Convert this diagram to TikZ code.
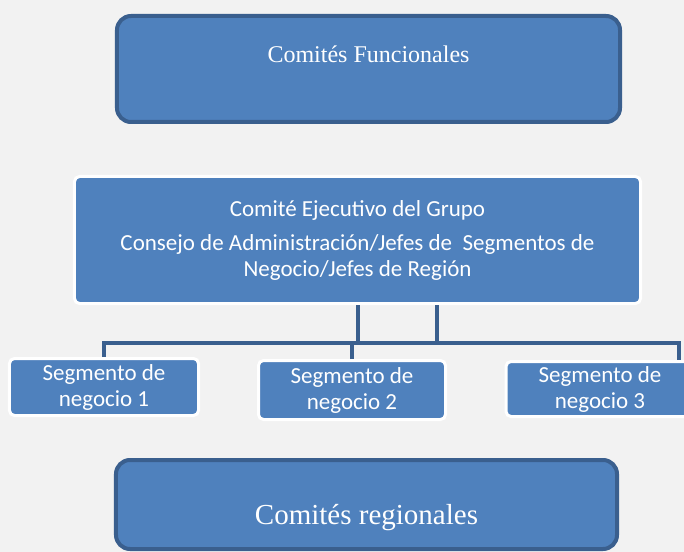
\documentclass[tikz,border=0pt]{standalone}
\usepackage{fontspec}
\setmainfont{Liberation Serif}
\newfontfamily\calibri{Carlito}
\usetikzlibrary{positioning}
\definecolor{boxblue}{HTML}{4F81BD}
\definecolor{edgeblue}{HTML}{3A5F8E}
\definecolor{paper}{HTML}{F2F2F2}

\begin{document}
\begin{tikzpicture}[
  x=1bp, y=-1bp,
  comite/.style={
    draw=edgeblue, fill=boxblue, line width=4bp,
    rounded corners=14bp, text=white, inner sep=0pt
  },
  jefes/.style={
    draw=white, fill=boxblue, line width=3bp,
    rounded corners=5bp, text=white, inner sep=0pt,
    align=center, font=\calibri\fontsize{23bp}{26bp}\selectfont
  },
  conn/.style={draw=edgeblue, line width=4bp, line join=miter}
]
  \fill[paper] (0,0) rectangle (684,552);
  \useasboundingbox (0,0) rectangle (684,552);
  \node[comite, minimum width=503bp, minimum height=106bp,
        text height=16bp, text depth=28bp,
        font=\fontsize{24bp}{28bp}\selectfont]
    (funcionales) at (368.5,69) {Comités Funcionales};
  \node[jefes, minimum width=566bp, minimum height=127bp]
    (ejecutivo) at (357.5,240)
    {Comité Ejecutivo del Grupo\\[8bp]
     Consejo de Administración/Jefes de\ \ Segmentos de\\
     Negocio/Jefes de Región};
  \node[jefes, minimum width=189bp, minimum height=57bp]
    (seg1) at (104,387) {Segmento de\\negocio 1};
  \node[jefes, minimum width=187bp, minimum height=59bp]
    (seg2) at (352,390) {Segmento de\\negocio 2};
  \node[jefes, minimum width=188bp, minimum height=55bp]
    (seg3) at (600,389) {Segmento de\\negocio 3};
  \node[comite, minimum width=501bp, minimum height=89bp,
        text height=46bp, text depth=6bp,
        font=\fontsize{29bp}{34bp}\selectfont]
    (regionales) at (366.5,504.5) {Comités regionales};
  % bus between the groups
  \coordinate (busL) at (seg1.north |- 0,343);
  \coordinate (busR) at (679,343);
  \draw[conn] (ejecutivo.south) -- (ejecutivo.south |- busL);
  \draw[conn] ([xshift=79bp]ejecutivo.south) -- ([xshift=79bp]ejecutivo.south |- busL);
  \draw[conn] (seg1.north) -- (busL) -- (busR) -- (busR |- seg3.north);
  \draw[conn] (seg2.north) -- (seg2.north |- busL);
\end{tikzpicture}
\end{document}
